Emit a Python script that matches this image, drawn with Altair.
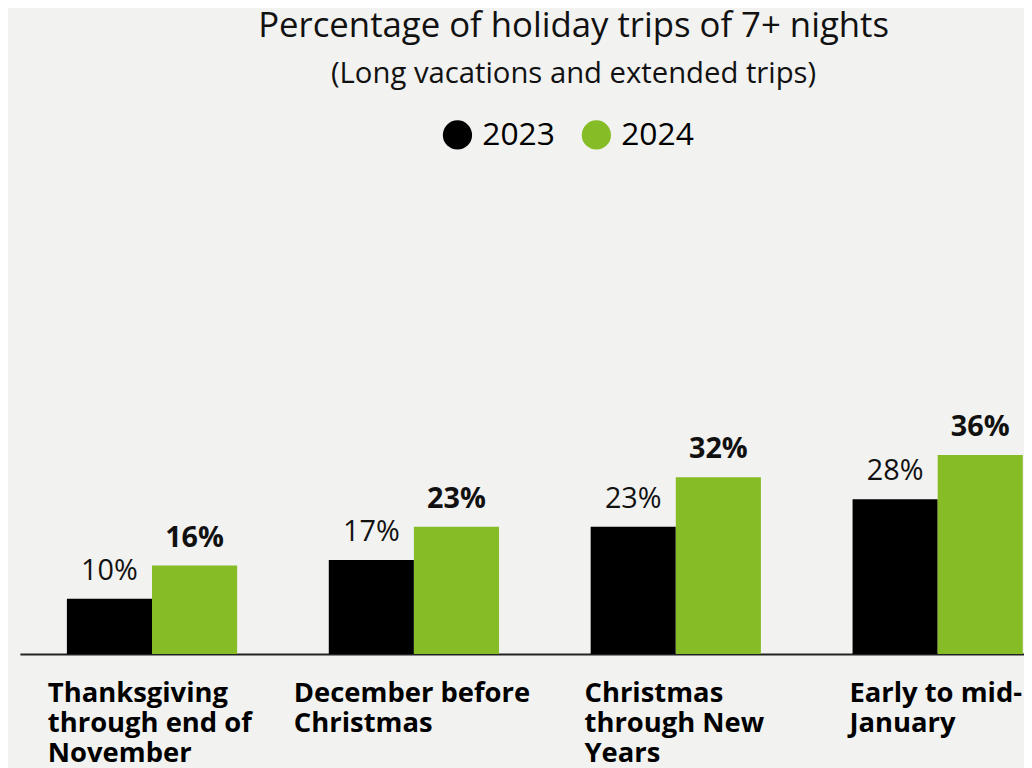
import altair as alt
import pandas as pd

# ---- data ----
categories = [
    "Thanksgiving|through end of|November",
    "December before|Christmas",
    "Christmas|through New|Years",
    "Early to mid-|January",
]
years = ["2023", "2024"]
values_2023 = [10, 17, 23, 28]
values_2024 = [16, 23, 32, 36]

rows = []
for cat, v23, v24 in zip(categories, values_2023, values_2024):
    rows.append({"period": cat, "year": years[0], "pct": v23})
    rows.append({"period": cat, "year": years[1], "pct": v24})
df = pd.DataFrame(rows)
df["label"] = df["pct"].astype(str) + "%"

FONT = "Open Sans"
BLACK = "#000000"
GREEN = "#86bc25"
BG = "#f2f2f0"

# left-aligned label blocks, shifted so each block sits centred under its group
label_shift = [-105, -121, -92, -89]
label_offset = {
    "condition": [
        {"test": f"datum.value === '{c}'", "value": s}
        for c, s in zip(categories, label_shift)
    ],
    "value": -100,
}

x_enc = alt.X(
    "period:N",
    sort=categories,
    scale=alt.Scale(paddingInner=0.35, paddingOuter=0.092, align=0.975),
    axis=alt.Axis(
        title=None,
        labelExpr="split(datum.value, '|')",
        labelAlign="left",
        labelBaseline="top",
        labelOffset=label_offset,
        labelPadding=26,
        labelLineHeight=30,
        labelFontSize=27.6,
        labelFontWeight="bold",
        labelFont=FONT,
        labelColor=BLACK,
        labelAngle=0,
        labelLimit=0,
        ticks=False,
        grid=False,
        domainColor="#222222",
        domainWidth=2,
    ),
)
xoff = alt.XOffset("year:N", sort=years)
y_enc = alt.Y("pct:Q", scale=alt.Scale(domain=[0, 90]), axis=None)

base = alt.Chart(df)

bars = base.mark_bar().encode(
    x=x_enc,
    xOffset=xoff,
    y=y_enc,
    color=alt.Color(
        "year:N",
        sort=years,
        scale=alt.Scale(domain=years, range=[BLACK, GREEN]),
        legend=alt.Legend(
            title=None,
            orient="none",
            direction="horizontal",
            legendX=425,
            legendY=-38,
            symbolType="circle",
            symbolSize=870,
            symbolStrokeWidth=0,
            labelFontSize=32,
            labelFont=FONT,
            labelColor=BLACK,
            labelOffset=9,
            columnPadding=25,
        ),
    ),
)

text_2023 = base.transform_filter(alt.datum.year == years[0]).mark_text(
    font=FONT, fontSize=29, fontWeight="normal", color="#111111",
    baseline="alphabetic", dy=-19,
).encode(x=x_enc, xOffset=xoff, y=y_enc, text="label:N")

text_2024 = base.transform_filter(alt.datum.year == years[1]).mark_text(
    font=FONT, fontSize=29, fontWeight="bold", color="#111111",
    baseline="alphabetic", dy=-19,
).encode(x=x_enc, xOffset=xoff, y=y_enc, text="label:N")

chart = (
    alt.layer(bars, text_2023, text_2024)
    .properties(
        width=1012,
        height=501,
        autosize="none",
        padding={"left": 12, "top": 147, "right": 0, "bottom": 112},
        title=alt.Title(
            "Percentage of holiday trips of 7+ nights",
            subtitle="(Long vacations and extended trips)",
            font=FONT,
            fontSize=35,
            fontWeight="normal",
            color="#111111",
            subtitleFont=FONT,
            subtitleFontSize=29.5,
            subtitleColor="#111111",
            subtitlePadding=16,
            anchor="middle",
            frame="group",
            dx=52,
            offset=31,
        ),
    )
    .configure(background=BG)
    .configure_view(stroke=None)
)

chart.save("out.html", embed_options={"renderer": "svg", "actions": False})
